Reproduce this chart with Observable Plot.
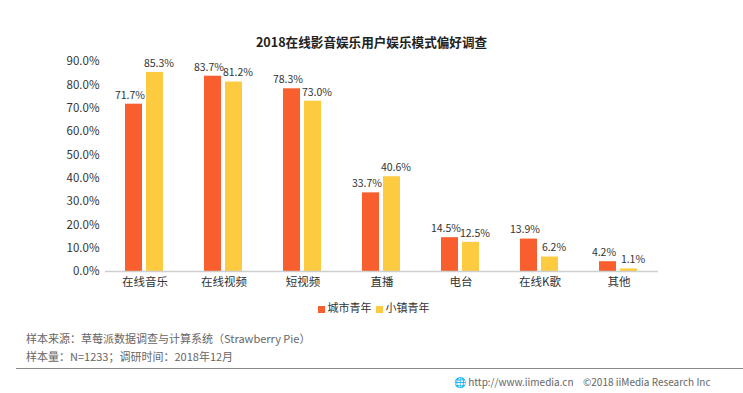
<!DOCTYPE html>
<html><head><meta charset="utf-8">
<script src="https://cdn.jsdelivr.net/npm/d3@7"></script>
<script src="https://cdn.jsdelivr.net/npm/@observablehq/plot@0.6"></script>
<style>
body{margin:0;background:#fff;font-family:"Noto Sans CJK SC","Noto Sans",sans-serif;}
#wrap{position:relative;width:743px;height:393px;overflow:hidden;}
.abs{position:absolute;white-space:nowrap;}
#title{top:32px;left:0;width:743px;text-align:center;font-size:12.6px;font-weight:bold;color:#222;}
#chart{top:50px;left:0;}
#legend{top:299px;left:0;width:743px;text-align:center;font-size:11px;color:#333;}
#legend span.sw{display:inline-block;width:7px;height:7px;margin:0 3px 0 4px;vertical-align:middle;}
.note{left:26px;font-size:11px;color:#666;}
#rule{top:368px;left:16px;width:727px;height:1px;background:#8a8a8a;}
.foot{top:374px;font-size:10px;color:#666;}
</style></head>
<body><div id="wrap">
<div id="title" class="abs">2018在线影音娱乐用户娱乐模式偏好调查</div>
<div id="chart" class="abs"></div>
<div id="legend" class="abs"></div>
<div class="abs note" style="top:330px">样本来源：草莓派数据调查与计算系统（Strawberry Pie）</div>
<div class="abs note" style="top:348px">样本量：N=1233；调研时间：2018年12月</div>
<div id="rule" class="abs"></div>
<div class="abs foot" style="left:454px">🌐 http://www.iimedia.cn</div>
<div class="abs foot" style="left:583px">©2018 iiMedia Research Inc</div>
</div>
<script>
const categories = ["在线音乐","在线视频","短视频","直播","电台","在线K歌","其他"];
const seriesNames = ["城市青年","小镇青年"];
const cityValues = [71.7,83.7,78.3,33.7,14.5,13.9,4.2];
const townValues = [85.3,81.2,73.0,40.6,12.5,6.2,1.1];
const yTicks = [0,10,20,30,40,50,60,70,80,90];
const colors = ["#F95F2E","#FDCB40"];

const data = [];
categories.forEach((c,i)=>{
  data.push({cat:c, series:seriesNames[0], value:cityValues[i]});
  data.push({cat:c, series:seriesNames[1], value:townValues[i]});
});
const cityData = data.filter(d=>d.series===seriesNames[0]);
const townData = data.filter(d=>d.series===seriesNames[1]);
const fmt = d=>d.value.toFixed(1)+"%";

const chart = Plot.plot({
  width:743, height:240,
  marginTop:11, marginBottom:19, marginLeft:103, marginRight:84,
  style:{fontFamily:'"Noto Sans CJK SC","Noto Sans",sans-serif', fontSize:"11.5px", color:"#333", background:"transparent"},
  fx:{domain:categories, padding:0, label:null, axis:"bottom", tickSize:0, tickPadding:6},
  x:{domain:seriesNames, paddingInner:0.18, paddingOuter:0.91, axis:null},
  y:{domain:[0,90], ticks:yTicks, tickFormat:d=>d.toFixed(1)+"%", tickSize:0, tickPadding:6, label:null},
  color:{domain:seriesNames, range:colors},
  marks:[
    Plot.barY(data,{fx:"cat", x:"series", y:"value", fill:"series"}),
    Plot.ruleY([0],{stroke:"#cfcfcf", strokeWidth:1.5}),
    Plot.text(cityData,{fx:"cat", x:"series", y:"value", text:fmt, dy:-9, dx:-4, fill:"#333", fontSize:10.5}),
    Plot.text(townData,{fx:"cat", x:"series", y:"value", text:fmt, dy:-9, dx:4, fill:"#333", fontSize:10.5})
  ]
});
document.getElementById("chart").appendChild(chart);

const lg = document.getElementById("legend");
lg.innerHTML = seriesNames.map((s,i)=>`<span class="sw" style="background:${colors[i]}"></span>${s}`).join("");
</script>
</body></html>
